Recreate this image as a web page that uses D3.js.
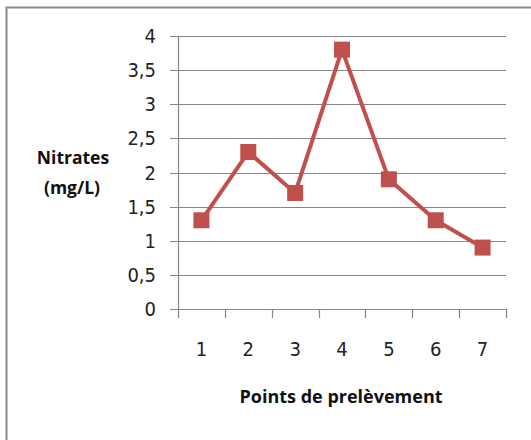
<!DOCTYPE html>
<html><head><meta charset="utf-8">
<script src="https://cdn.jsdelivr.net/npm/d3@7"></script>
<style>
html,body{margin:0;padding:0;background:#fff;}
svg{display:block;}
.t{font-family:"Liberation Sans Narrow","DejaVu Sans Condensed","Open Sans",sans-serif;}
.b{font-family:"Open Sans","Liberation Sans",sans-serif;font-weight:bold;}
</style>
</head><body>
<svg id="c" width="531" height="440"></svg>
<script>
const categories = ["1","2","3","4","5","6","7"];
const values = [1.3, 2.3, 1.7, 3.8, 1.9, 1.3, 0.9];
const yTicks = [0, 0.5, 1, 1.5, 2, 2.5, 3, 3.5, 4];
const yTitle = ["Nitrates", "(mg/L)"];
const xTitle = "Points de prelèvement";

(function(){
const svg = d3.select("#c");
svg.append("rect").attr("x", 6.5).attr("y", 7.5).attr("width", 560).attr("height", 460)
  .attr("fill", "#fff").attr("stroke", "#8a8a8a").attr("stroke-width", 2);

const pL = 178, pR = 506, pT = 36, pB = 309;
const x = d3.scaleBand().domain(categories).range([pL, pR]);
const y = d3.scaleLinear().domain([0, 4]).range([pB, pT]);

svg.append("g").selectAll("line").data(yTicks).join("line")
  .attr("x1", pL - 8).attr("x2", pR)
  .attr("y1", d => Math.round(y(d)) + 0.5).attr("y2", d => Math.round(y(d)) + 0.5)
  .attr("stroke", "#868686").attr("stroke-width", 1.2);

svg.append("line").attr("x1", pL + 0.5).attr("x2", pL + 0.5).attr("y1", pT).attr("y2", pB + 9)
  .attr("stroke", "#868686").attr("stroke-width", 1.2);

const xb = categories.map(c => x(c)).concat([pR]);
svg.append("g").selectAll("line").data(xb.slice(1)).join("line")
  .attr("x1", d => Math.round(d) + 0.5).attr("x2", d => Math.round(d) + 0.5)
  .attr("y1", pB).attr("y2", pB + 9)
  .attr("stroke", "#868686").attr("stroke-width", 1.2);

const fmt = d => String(d).replace(".", ",");
svg.append("g").selectAll("text").data(yTicks).join("text")
  .attr("class", "t").attr("x", 156).attr("y", d => y(d)).attr("dy", "0.35em")
  .attr("text-anchor", "end").attr("font-size", 20).attr("fill", "#222")
  .text(fmt);

svg.append("g").selectAll("text").data(categories).join("text")
  .attr("class", "t").attr("x", d => x(d) + x.bandwidth() / 2).attr("y", 349).attr("dy", "0.35em")
  .attr("text-anchor", "middle").attr("font-size", 20).attr("fill", "#222")
  .text(d => d);

const cx = (d, i) => x(categories[i]) + x.bandwidth() / 2;
svg.append("path").datum(values)
  .attr("d", d3.line().x(cx).y(d => y(d)))
  .attr("fill", "none").attr("stroke", "#c0504d").attr("stroke-width", 4).attr("stroke-linejoin", "round");

const s = 16;
svg.append("g").selectAll("rect").data(values).join("rect")
  .attr("x", (d, i) => cx(d, i) - s / 2).attr("y", d => y(d) - s / 2)
  .attr("width", s).attr("height", s).attr("fill", "#c0504d");

svg.append("text").attr("class", "b").attr("x", 73).attr("y", 158).attr("dy", "0.35em")
  .attr("text-anchor", "middle").attr("font-size", 17.5).attr("fill", "#111").text(yTitle[0]);
svg.append("text").attr("class", "b").attr("x", 72).attr("y", 188).attr("dy", "0.35em")
  .attr("text-anchor", "middle").attr("font-size", 17.5).attr("fill", "#111").text(yTitle[1]);
svg.append("text").attr("class", "b").attr("x", 341).attr("y", 397).attr("dy", "0.35em")
  .attr("text-anchor", "middle").attr("font-size", 18).attr("fill", "#111").text(xTitle);
})();
</script>
</body></html>
